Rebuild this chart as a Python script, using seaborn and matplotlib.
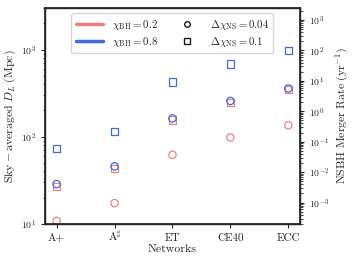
import matplotlib
matplotlib.use("Agg")
import matplotlib.pyplot as plt
from matplotlib.lines import Line2D
import seaborn as sns
import pandas as pd

networks = ["A+", r"A$^\sharp$", "ET", "CE40", "ECC"]
# Sky-averaged D_L (Mpc)
dl_chi02_d004 = [10.8, 17.3, 62, 98, 135]
dl_chi02_d01 = [27, 43, 155, 245, 345]
dl_chi08_d004 = [28.6, 45.6, 162, 257, 357]
dl_chi08_d01 = [72.8, 114, 425, 685, 982]

red = "#F08080"
blue = "#4169E1"

sns.set_theme(style="ticks")
plt.rcParams.update({
    "font.family": "serif",
    "font.serif": ["cmr10", "DejaVu Serif"],
    "mathtext.fontset": "cm",
    "axes.formatter.use_mathtext": True,
    "axes.unicode_minus": False,
    "font.size": 7,
})

fig = plt.figure(figsize=(3.52, 2.64), dpi=100)
ax = fig.add_axes([0.128, 0.152, 0.724, 0.818])

series = [
    (dl_chi02_d01, red, "s"),
    (dl_chi02_d004, red, "o"),
    (dl_chi08_d01, blue, "s"),
    (dl_chi08_d004, blue, "o"),
]
for vals, c, m in series:
    df = pd.DataFrame({"net": networks, "dl": vals})
    sns.scatterplot(data=df, x="net", y="dl", marker=m, s=28,
                    facecolors="none", edgecolors=c, linewidth=0.9,
                    ax=ax, zorder=3)

ax.set_yscale("log")
ax.set_ylim(10, 3000)
ax.set_xlim(-0.2, 4.2)
ax.set_xlabel("Networks", fontsize=8.5, labelpad=1)
ax.set_ylabel(r"$\mathrm{Sky-averaged}\ D_L\ (\mathrm{Mpc})$", fontsize=8.5, labelpad=2)
ax.tick_params(axis="both", labelsize=7, direction="out", length=3, width=0.8)
ax.tick_params(axis="x", labelsize=8, pad=9)
ax.tick_params(axis="y", which="minor", length=1.8, width=0.6)
for lab in ax.get_xticklabels():
    lab.set_verticalalignment("baseline")
for s in ax.spines.values():
    s.set_linewidth(1.0)

ax2 = ax.twinx()
ax2.set_yscale("log")
ax2.set_ylim(2e-4, 2500)
ax2.set_ylabel(r"$\mathrm{NSBH\ Merger\ Rate}\ (\mathrm{yr}^{-1})$", fontsize=8.5, labelpad=3)
ax2.tick_params(axis="y", labelsize=7, length=3, width=0.8)
ax2.tick_params(axis="y", which="minor", length=1.8, width=0.6)

handles = [
    Line2D([], [], color=red, lw=2.5),
    Line2D([], [], color=blue, lw=2.5),
    Line2D([], [], color="k", marker="o", ls="", mfc="none", ms=4),
    Line2D([], [], color="k", marker="s", ls="", mfc="none", ms=4),
]
labels = [r"$\chi_{\mathrm{BH}}=0.2$", r"$\chi_{\mathrm{BH}}=0.8$",
          r"$\Delta\chi_{\mathrm{NS}}=0.04$", r"$\Delta\chi_{\mathrm{NS}}=0.1$"]
ax.legend(handles, labels, ncol=2, loc="upper center", fontsize=7.8,
          frameon=True, handlelength=2.5, columnspacing=1.5,
          borderpad=0.4, labelspacing=0.3)

fig.savefig("out.png", dpi=100)
